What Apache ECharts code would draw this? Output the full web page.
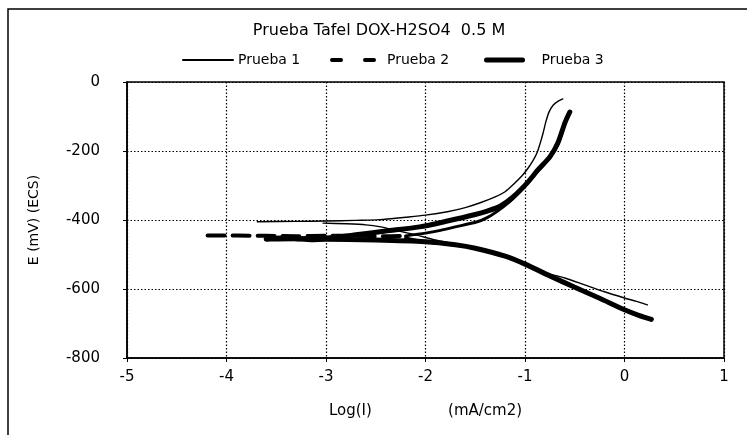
<!DOCTYPE html>
<html>
<head>
<meta charset="utf-8">
<title>Prueba Tafel</title>
<script src="https://cdn.jsdelivr.net/npm/echarts@6/dist/echarts.min.js"></script>
<style>
html,body{margin:0;padding:0;background:#fff}
#chart{width:747px;height:435px}
</style>
</head>
<body>
<div id="chart"></div>
<script>
// Log(I) (mA/cm2) vs E (mV ECS)
var xTicks = [-5, -4, -3, -2, -1, 0, 1];
var yTicks = [-800, -600, -400, -200, 0];
var seriesNames = ['Prueba 1', 'Prueba 2', 'Prueba 3'];

var prueba1Anodic = [[-3.69,-405],[-3.3,-404],[-3.0,-403],[-2.7,-401],[-2.46,-399],[-2.2,-392],[-2.0,-386],[-1.78,-376],[-1.6,-364],[-1.45,-350],[-1.3,-333],[-1.2,-318],[-1.12,-298],[-1.03,-272],[-0.97,-250],[-0.92,-228],[-0.88,-206],[-0.85,-180],[-0.82,-150],[-0.79,-115],[-0.76,-88],[-0.72,-68],[-0.67,-56],[-0.62,-49]];
var prueba1Catodic = [[-3.03,-409],[-2.8,-411],[-2.6,-414],[-2.45,-420],[-2.3,-430],[-2.1,-443],[-1.9,-458],[-1.7,-470],[-1.5,-481],[-1.2,-504],[-1.0,-527],[-0.78,-554],[-0.6,-568],[-0.4,-588],[-0.2,-608],[0,-626],[0.12,-636],[0.23,-646]];

var prueba2Bajo = [[-4.19,-445],[-3.9,-445],[-3.6,-446],[-3.3,-447],[-3.0,-446],[-2.7,-446],[-2.4,-447],[-2.2,-446]];
var prueba2Anodic = [[-2.2,-446],[-2.0,-438],[-1.85,-430],[-1.7,-420],[-1.48,-405],[-1.38,-393],[-1.28,-375],[-1.12,-338],[-0.98,-296],[-0.87,-258],[-0.75,-219],[-0.67,-180],[-0.62,-140]];
var prueba2Catodic = [[-2.2,-452],[-2.0,-463],[-1.7,-472],[-1.5,-482],[-1.2,-505],[-1.0,-528],[-0.75,-562],[-0.5,-595],[-0.25,-627],[0,-660],[0.2,-682]];

var prueba3Catodic = [[-3.6,-455],[-3.45,-452],[-3.3,-454],[-3.15,-457],[-3.0,-456],[-2.5,-458],[-2.0,-463],[-1.7,-472],[-1.5,-482],[-1.2,-505],[-1.0,-528],[-0.75,-562],[-0.5,-595],[-0.25,-627],[0,-660],[0.15,-677],[0.27,-688]];
var prueba3Anodic = [[-3.6,-455],[-3.0,-452],[-2.7,-443],[-2.4,-432],[-2.06,-420],[-1.78,-403],[-1.5,-384],[-1.38,-374],[-1.25,-360],[-1.12,-333],[-0.98,-293],[-0.87,-255],[-0.75,-217],[-0.67,-177],[-0.6,-119],[-0.55,-87]];

var chart = echarts.init(document.getElementById('chart'));
var font = 'DejaVu Sans';

function linea(name, data, width, type, z) {
	return {
		name: name,
		type: 'line',
		data: data,
		symbol: 'none',
		smooth: 0.25,
		z: z,
		silent: true,
		animation: false,
		itemStyle: {color: '#000'},
		lineStyle: {color: '#000', width: width, type: type, cap: 'round', join: 'round'}
	};
}

function leyenda(item, left) {
	return {
		data: [item], left: left, top: 53, itemWidth: 50, itemHeight: 14, padding: 0,
		itemStyle: {opacity: 0},
		textStyle: {fontFamily: font, fontSize: 14, color: '#000'}
	};
}

var option = {
	backgroundColor: '#fff',
	animation: false,
	title: {
		text: 'Prueba Tafel DOX-H2SO4  0.5 M',
		left: 379,
		textAlign: 'center',
		top: 23,
		padding: 0,
		textStyle: {fontFamily: font, fontSize: 16, fontWeight: 'normal', color: '#000'}
	},
	legend: [
		leyenda({name: seriesNames[0]}, 182),
		leyenda({name: seriesNames[1], lineStyle: {type: [9, 24], width: 4}}, 330),
		leyenda({name: seriesNames[2], lineStyle: {type: [36, 30], width: 5}}, 484)
	],
	grid: {
		left: 127, right: 23, top: 82, bottom: 77,
		show: true, borderColor: '#000', borderWidth: 1.5, backgroundColor: 'transparent'
	},
	xAxis: {
		type: 'value',
		min: xTicks[0], max: xTicks[xTicks.length - 1], interval: 1,
		name: 'Log(I)                (mA/cm2)',
		nameLocation: 'middle',
		nameGap: 46,
		nameTextStyle: {fontFamily: font, fontSize: 15, color: '#000'},
		axisLine: {onZero: false, lineStyle: {color: '#000', width: 1.5}},
		axisTick: {show: true, length: 4, lineStyle: {color: '#000'}},
		axisLabel: {fontFamily: font, fontSize: 15, color: '#000', margin: 12},
		splitLine: {show: true, lineStyle: {color: '#000', width: 1.2, type: [1.5, 2]}}
	},
	yAxis: {
		type: 'value',
		min: yTicks[0], max: yTicks[yTicks.length - 1], interval: 200,
		name: 'E (mV) (ECS)',
		nameLocation: 'middle',
		nameGap: 86,
		nameTextStyle: {fontFamily: font, fontSize: 14, color: '#000'},
		axisLine: {show: true, onZero: false, lineStyle: {color: '#000', width: 1.5}},
		axisTick: {show: true, length: 4, lineStyle: {color: '#000'}},
		axisLabel: {fontFamily: font, fontSize: 15, color: '#000', margin: 27},
		splitLine: {show: true, lineStyle: {color: '#000', width: 1.2, type: [1.5, 2]}}
	},
	graphic: [{
		type: 'rect',
		silent: true,
		shape: {x: 8, y: 9, width: 760, height: 460},
		style: {fill: 'none', stroke: '#000', lineWidth: 1.5}
	}],
	series: [
		linea(seriesNames[1], prueba2Bajo, 4, [17, 8], 2),
		linea(seriesNames[1], prueba2Anodic, 3, 'solid', 2),
		linea(seriesNames[1], prueba2Catodic, 3, 'solid', 2),
		linea(seriesNames[0], prueba1Anodic, 1.4, 'solid', 3),
		linea(seriesNames[0], prueba1Catodic, 1.4, 'solid', 3),
		linea(seriesNames[2], prueba3Catodic, 5, 'solid', 4),
		linea(seriesNames[2], prueba3Anodic, 5, 'solid', 4)
	]
};
chart.setOption(option);
</script>
</body>
</html>
